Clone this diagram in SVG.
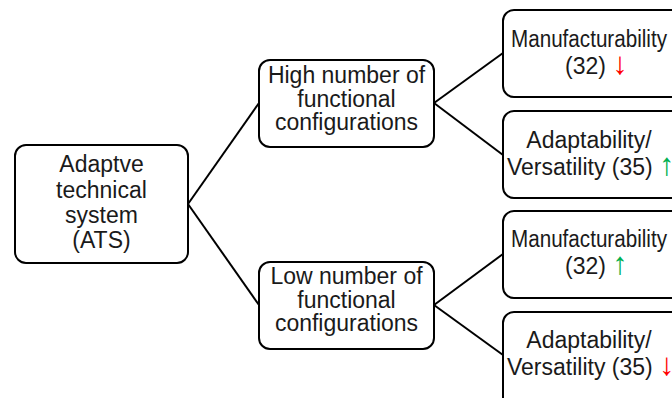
<svg xmlns="http://www.w3.org/2000/svg" width="672" height="398" viewBox="0 0 672 398">
<style>
.box{fill:#fff;stroke:#000;stroke-width:2}
.t{font-family:"Liberation Sans",Arial,sans-serif;font-size:23px;fill:#1a1a1a;text-anchor:middle}
.s{text-anchor:start}
.ln{stroke:#000;stroke-width:2;fill:none}
.ar{font-family:"Liberation Sans",sans-serif;font-size:31px}
.up{fill:#00B050}
.dn{fill:#FF0000}
</style>
<rect width="672" height="398" fill="#fff"/>
<g id="connectors">
<line class="ln" x1="188" y1="204" x2="259" y2="103"/>
<line class="ln" x1="188" y1="204" x2="259" y2="305"/>
<line class="ln" x1="434" y1="103" x2="503" y2="53"/>
<line class="ln" x1="434" y1="103" x2="503" y2="155"/>
<line class="ln" x1="434" y1="305" x2="503" y2="254"/>
<line class="ln" x1="434" y1="305" x2="503" y2="355"/>
</g>
<g id="ats">
<rect class="box" x="15" y="145" width="173" height="118" rx="11"/>
<text class="t" x="101.5" y="172">Adaptve</text>
<text class="t" x="101.5" y="198">technical</text>
<text class="t" x="101.5" y="223">system</text>
<text class="t" x="101.5" y="248">(ATS)</text>
</g>
<g id="high">
<rect class="box" x="259" y="60" width="175" height="87" rx="11"/>
<text class="t" x="346.5" y="83">High number of</text>
<text class="t" x="346.5" y="107">functional</text>
<text class="t" x="346.5" y="130">configurations</text>
</g>
<g id="low">
<rect class="box" x="259" y="262" width="175" height="87" rx="11"/>
<text class="t" x="346.5" y="284">Low number of</text>
<text class="t" x="346.5" y="308">functional</text>
<text class="t" x="346.5" y="331">configurations</text>
</g>
<g id="manuf-high">
<rect class="box" x="503" y="10" width="180" height="87" rx="11"/>
<text class="t s" x="511" y="47" textLength="156" lengthAdjust="spacingAndGlyphs">Manufacturability</text>
<text class="t s" x="565" y="74">(32) <tspan class="ar dn">↓</tspan></text>
</g>
<g id="adapt-high">
<rect class="box" x="503" y="111" width="180" height="87" rx="11"/>
<text class="t" x="589" y="148">Adaptability/</text>
<text class="t s" x="507" y="175">Versatility (35) <tspan class="ar up">↑</tspan></text>
</g>
<g id="manuf-low">
<rect class="box" x="503" y="211" width="180" height="87" rx="11"/>
<text class="t s" x="511" y="247" textLength="156" lengthAdjust="spacingAndGlyphs">Manufacturability</text>
<text class="t s" x="565" y="274">(32) <tspan class="ar up">↑</tspan></text>
</g>
<g id="adapt-low">
<rect class="box" x="503" y="312" width="180" height="100" rx="11"/>
<text class="t" x="589" y="348">Adaptability/</text>
<text class="t s" x="507" y="375">Versatility (35) <tspan class="ar dn">↓</tspan></text>
</g>
</svg>
